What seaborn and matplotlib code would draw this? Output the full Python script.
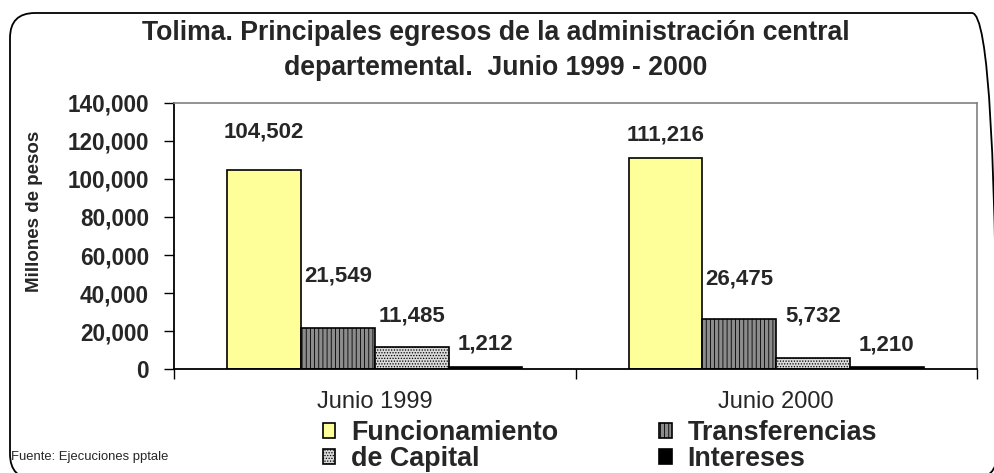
import matplotlib
matplotlib.use("Agg")
import matplotlib.pyplot as plt
import matplotlib.patches as mpatches
from matplotlib.patches import FancyBboxPatch
from matplotlib.transforms import IdentityTransform
from matplotlib.ticker import FuncFormatter, MultipleLocator, FixedLocator
import pandas as pd
import seaborn as sns

periods = ["Junio 1999", "Junio 2000"]
concepts = ["Funcionamiento", "Transferencias", "de Capital", "Intereses"]
funcionamiento = [104502, 111216]
transferencias = [21549, 26475]
capital = [11485, 5732]
intereses = [1212, 1210]

colors = ["#FFFF99", "#8C8C8C", "#DADADA", "#000000"]
hatches = ["", "||||", "......", ""]
# lift of each value label above its bar, in points (concept by concept)
label_lift = [28, 16.6, 37.4, 28.8, 22.3, 30.2, 16.6, 15.8]

df = pd.DataFrame({
    "periodo": periods * len(concepts),
    "concepto": [c for c in concepts for _ in periods],
    "valor": funcionamiento + transferencias + capital + intereses,
})

sns.set_theme(style="white")
plt.rcParams["font.family"] = ["Liberation Sans", "DejaVu Sans"]
plt.rcParams["hatch.linewidth"] = 0.6

W, H = 994, 473
fig = plt.figure(figsize=(W / 100, H / 100), dpi=100)

# rounded chart frame (pixel coords, origin bottom-left)
frame = FancyBboxPatch((10, -6), 987, H - 13 + 6,
                       boxstyle="round,pad=0,rounding_size=25",
                       transform=IdentityTransform(), fill=False,
                       edgecolor="black", linewidth=1.3)
fig.patches.append(frame)

ax = fig.add_axes([174 / W, 1 - 369 / H, (977 - 174) / W, (369 - 103) / H])
sns.barplot(data=df, x="periodo", y="valor", hue="concepto", order=periods,
            hue_order=concepts, palette=colors, saturation=1, width=0.735,
            edgecolor="black", linewidth=1.2, legend=False, ax=ax)

k = 0
for cont, hatch in zip(ax.containers, hatches):
    for bar in cont:
        bar.set_hatch(hatch)
        v = bar.get_height()
        ax.annotate(f"{v:,.0f}", (bar.get_x() + bar.get_width() / 2, v),
                    xytext=(0, label_lift[k]), textcoords="offset points",
                    ha="center", va="center", fontsize=16, fontweight="bold")
        k += 1

ax.set_ylim(0, 140000)
ax.set_xlim(-0.5, 1.5)
ax.yaxis.set_major_locator(MultipleLocator(20000))
ax.yaxis.set_major_formatter(FuncFormatter(lambda y, _: f"{y:,.0f}"))
ax.xaxis.set_minor_locator(FixedLocator([-0.5, 0.5, 1.5]))
ax.tick_params(axis="y", which="major", left=True, direction="out", length=7,
               width=1, color="black", pad=11, labelsize=16.3)
ax.tick_params(axis="x", which="major", length=0, pad=16, labelsize=17)
ax.tick_params(axis="x", which="minor", bottom=True, direction="out", length=7,
               width=1, color="black")
for lab in ax.get_yticklabels():
    lab.set_fontweight("bold")
ax.set_xlabel("")
ax.set_ylabel("")
for side in ["top", "right"]:
    ax.spines[side].set_color("#808080")
    ax.spines[side].set_linewidth(1.2)
for side in ["left", "bottom"]:
    ax.spines[side].set_color("black")
    ax.spines[side].set_linewidth(1.3)

fig.text(0.499, 1 - 33 / H, "Tolima. Principales egresos de la administración central",
         ha="center", va="center", fontsize=19.2, fontweight="bold")
fig.text(0.499, 1 - 68 / H, "departemental.  Junio 1999 - 2000",
         ha="center", va="center", fontsize=19.2, fontweight="bold")
fig.text(35 / W, 1 - 211 / H, "Millones de pesos", rotation=90,
         ha="center", va="center", fontsize=13.5, fontweight="bold")
fig.text(11 / W, 1 - 457 / H, "Fuente: Ejecuciones pptale",
         ha="left", va="center", fontsize=9.4)

handles = [mpatches.Patch(facecolor=c, edgecolor="black", hatch=h, linewidth=1.2, label=n)
           for c, h, n in zip(colors, hatches, concepts)]
order = [0, 2, 1, 3]
fig.legend([handles[i] for i in order], [concepts[i] for i in order],
           ncol=2, loc="upper left", bbox_to_anchor=(323 / W, 1 - 420 / H),
           frameon=False, prop={"weight": "bold", "size": 19.4},
           handlelength=0.45, handleheight=0.45, handletextpad=0.6,
           columnspacing=3.75, labelspacing=0.0, borderpad=0, borderaxespad=0)

fig.savefig("out.png", dpi=100)
